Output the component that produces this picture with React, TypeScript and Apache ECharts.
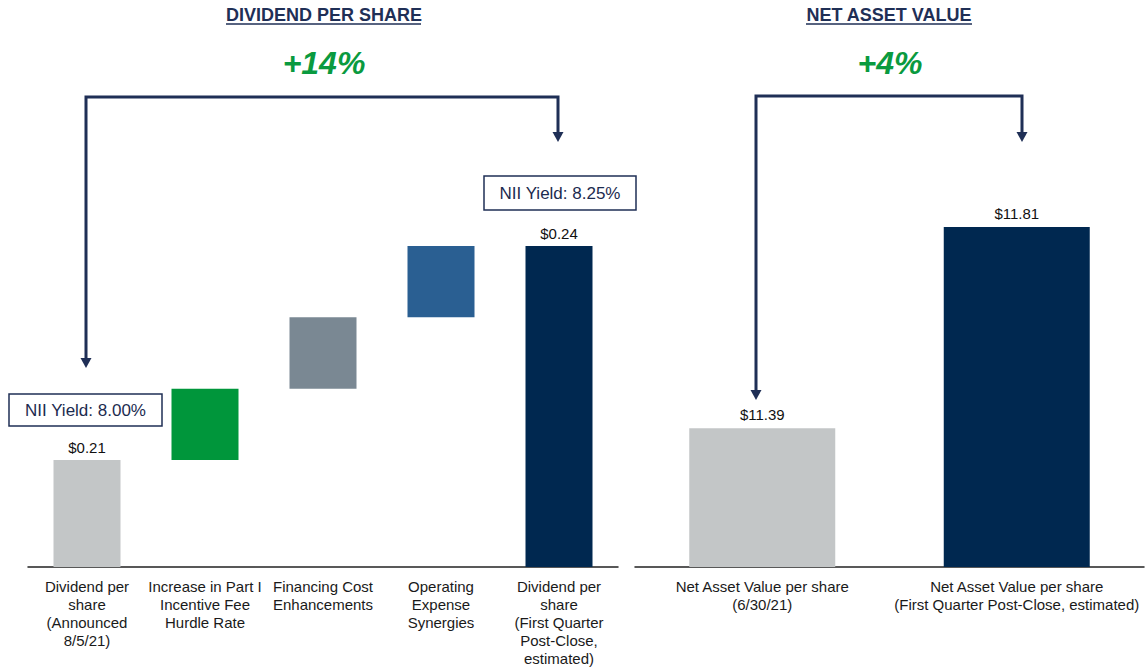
import React, { useEffect, useRef } from "react";
import * as echarts from "echarts";

const divCategories = [
  "Dividend per\nshare\n(Announced\n8/5/21)",
  "Increase in Part I\nIncentive Fee\nHurdle Rate",
  "Financing Cost\nEnhancements",
  "Operating\nExpense\nSynergies",
  "Dividend per\nshare\n(First Quarter\nPost-Close,\nestimated)",
];
const divStart = 0.21;
const divSteps = [0.01, 0.01, 0.01];
const divEnd = 0.24;
const divColors = ["#c3c6c7", "#00963b", "#7a8893", "#2a5f92", "#002850"];

const navCategories = [
  "Net Asset Value per share\n(6/30/21)",
  "Net Asset Value per share\n(First Quarter Post-Close, estimated)",
];
const navValues = [11.39, 11.81];
const navColors = ["#c3c6c7", "#002850"];

const divYieldLabels = ["NII Yield: 8.00%", "NII Yield: 8.25%"];
const changeLabels = ["+14%", "+4%"];
const titles = ["DIVIDEND PER SHARE", "NET ASSET VALUE"];

const NAVY = "#1f2f56";
const GREEN = "#0a9a3f";

export default function App() {
  const ref = useRef<HTMLDivElement>(null);
  useEffect(() => {
    document.body.style.margin = "0";
    const chart = echarts.init(ref.current!, undefined, { renderer: "svg" });

    // waterfall: invisible base + visible value
    const base: number[] = [0];
    const vals: number[] = [divStart];
    let acc = divStart;
    divSteps.forEach((s) => {
      base.push(acc);
      vals.push(s);
      acc = +(acc + s).toFixed(4);
    });
    base.push(0);
    vals.push(divEnd);

    const font = "Liberation Sans, Arial, sans-serif";
    const arrowHead = (x: number, y: number) => ({
      type: "polygon",
      shape: { points: [[x - 5.5, y - 10], [x + 5.5, y - 10], [x, y]] },
      style: { fill: NAVY },
    });
    const lineStyle = { stroke: NAVY, lineWidth: 3, fill: "none" };

    chart.setOption({
      animation: false,
      grid: [
        { left: 28, width: 590, top: 246, bottom: 104 },
        { left: 635, width: 509, top: 227, bottom: 104 },
      ],
      xAxis: [
        {
          type: "category",
          gridIndex: 0,
          data: divCategories,
          axisLine: { lineStyle: { color: "#222", width: 1.5 } },
          axisTick: { show: false },
          axisLabel: {
            interval: 0,
            fontSize: 15,
            lineHeight: 18,
            color: "#1a1a1a",
            margin: 10,
            fontFamily: font,
            hideOverlap: false,
          },
        },
        {
          type: "category",
          gridIndex: 1,
          data: navCategories,
          axisLine: { lineStyle: { color: "#222", width: 1.5 } },
          axisTick: { show: false },
          axisLabel: {
            interval: 0,
            fontSize: 15,
            lineHeight: 18,
            color: "#1a1a1a",
            margin: 10,
            fontFamily: font,
            hideOverlap: false,
          },
        },
      ],
      yAxis: [
        { type: "value", gridIndex: 0, min: 0.195, max: divEnd, show: false, splitLine: { show: false } },
        { type: "value", gridIndex: 1, min: 11.1, max: 11.81, show: false, splitLine: { show: false } },
      ],
      series: [
        {
          type: "bar",
          xAxisIndex: 0,
          yAxisIndex: 0,
          stack: "w",
          barWidth: 67,
          data: base,
          itemStyle: { color: "transparent" },
          silent: true,
        },
        {
          type: "bar",
          xAxisIndex: 0,
          yAxisIndex: 0,
          stack: "w",
          barWidth: 67,
          data: vals.map((v, i) => ({
            value: v,
            itemStyle: { color: divColors[i] },
            label: {
              show: i === 0 || i === vals.length - 1,
            },
          })),
          label: {
            position: "top",
            distance: 5,
            fontSize: 15,
            color: "#111",
            fontFamily: font,
            formatter: (p: any) => "$" + Number(p.value).toFixed(2),
          },
        },
        {
          type: "bar",
          xAxisIndex: 1,
          yAxisIndex: 1,
          barWidth: 146,
          data: navValues.map((v, i) => ({ value: v, itemStyle: { color: navColors[i] } })),
          label: {
            show: true,
            position: "top",
            distance: 6,
            fontSize: 15,
            color: "#111",
            fontFamily: font,
            formatter: (p: any) => "$" + Number(p.value).toFixed(2),
          },
        },
      ],
      graphic: [
        // titles
        {
          type: "text",
          style: { text: titles[0], x: 324, y: 15, textAlign: "center", textVerticalAlign: "middle", font: "bold 18px " + font, fill: NAVY },
        },
        { type: "line", shape: { x1: 226, y1: 24, x2: 421, y2: 24 }, style: { stroke: NAVY, lineWidth: 1.5 } },
        {
          type: "text",
          style: { text: titles[1], x: 889, y: 15, textAlign: "center", textVerticalAlign: "middle", font: "bold 18px " + font, fill: NAVY },
        },
        { type: "line", shape: { x1: 806, y1: 24, x2: 972, y2: 24 }, style: { stroke: NAVY, lineWidth: 1.5 } },
        // change labels
        {
          type: "text",
          style: { text: changeLabels[0], x: 324, y: 63, textAlign: "center", textVerticalAlign: "middle", font: "italic bold 32px " + font, fill: GREEN },
        },
        {
          type: "text",
          style: { text: changeLabels[1], x: 890, y: 63, textAlign: "center", textVerticalAlign: "middle", font: "italic bold 32px " + font, fill: GREEN },
        },
        // left bracket
        { type: "polyline", shape: { points: [[86, 358], [86, 97], [558, 97], [558, 132]] }, style: lineStyle },
        arrowHead(86, 368),
        arrowHead(558, 142),
        // right bracket
        { type: "polyline", shape: { points: [[756, 390], [756, 96], [1022, 96], [1022, 132]] }, style: lineStyle },
        arrowHead(756, 400),
        arrowHead(1022, 142),
        // yield boxes
        { type: "rect", shape: { x: 9, y: 394, width: 153, height: 32 }, style: { fill: "#fff", stroke: NAVY, lineWidth: 1.5 } },
        {
          type: "text",
          style: { text: divYieldLabels[0], x: 85.5, y: 410, textAlign: "center", textVerticalAlign: "middle", font: "17px " + font, fill: "#1c2b4f" },
        },
        { type: "rect", shape: { x: 484, y: 176, width: 152, height: 34 }, style: { fill: "#fff", stroke: NAVY, lineWidth: 1.5 } },
        {
          type: "text",
          style: { text: divYieldLabels[1], x: 560, y: 193, textAlign: "center", textVerticalAlign: "middle", font: "17px " + font, fill: "#1c2b4f" },
        },
      ],
    });
    return () => chart.dispose();
  }, []);
  return <div ref={ref} style={{ width: 1145, height: 671 }} />;
}
